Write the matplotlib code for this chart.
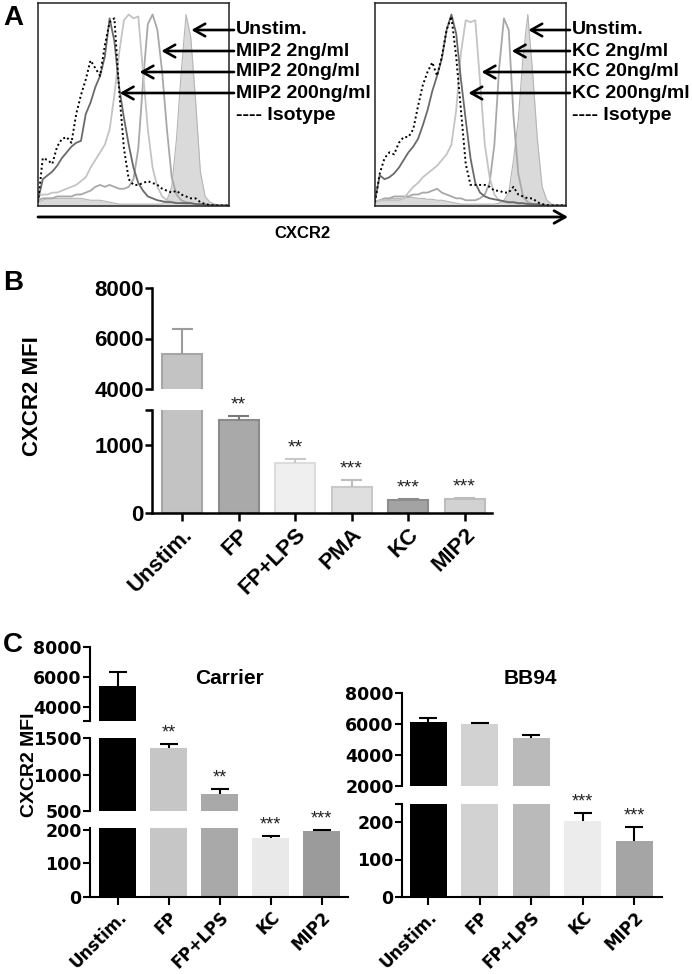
import matplotlib.pyplot as plt
import numpy as np

# ---------------- panel A: CXCR2 histograms (% of max on a 0-100 channel grid) ----------------
chan = np.arange(41) * 2.5

mip2_unstim = [2, 3, 4, 4, 4, 4, 4, 4, 4, 4, 3.5, 3, 3, 3, 2.5, 2, 1.5, 1, 1, 1, 1, 1, 1, 1, 1, 1, 1,
               3, 10, 35, 70, 100, 88, 55, 18, 5, 2, 1, 0.5, 0.3, 0.2]
mip2_2 = [3, 4, 4, 4, 5, 5, 5, 5, 6, 6, 7, 8, 10, 11, 10, 11, 10, 9, 9, 10, 14, 30, 65, 95, 100, 92,
          70, 40, 15, 6, 3, 2, 1.5, 1, 1, 0.5, 0.3, 0.3, 0.3, 0.3, 0.3]
mip2_20 = [5, 6, 6, 7, 7, 8, 9, 10, 11, 13, 15, 20, 24, 28, 32, 40, 58, 80, 97, 100, 98, 99, 70, 40,
           20, 10, 5, 3, 2, 1.5, 1.5, 1, 1, 1, 0.8, 0.5, 0.3, 0.3, 0.3, 0.3, 0.3]
mip2_200 = [3, 14, 16, 18, 21, 25, 28, 31, 33, 34, 48, 54, 62, 68, 78, 98, 86, 62, 46, 32, 20, 12, 8,
            5, 4, 3, 2.5, 2, 2, 1.5, 1.5, 1.5, 1.5, 1, 1, 0.8, 0.5, 0.5, 0.3, 0.3, 0.3]
mip2_iso = [2, 25, 24, 22, 31, 35, 36, 33, 48, 58, 66, 76, 72, 68, 84, 96, 98, 60, 30, 14, 11, 11, 12,
            13, 12, 11, 9, 8, 7, 8, 6, 5, 4, 4, 2, 1, 0.5, 0.3, 0.3, 0.3, 0.3]

kc_unstim = [2, 3, 3, 3.5, 4, 4, 4, 4.5, 4.5, 4, 4, 3.5, 3.5, 3, 3, 2.5, 2, 1.5, 1, 1, 1, 1, 1, 1, 1,
             1, 1.5, 3, 7, 24, 45, 78, 100, 70, 35, 10, 3, 1, 0.5, 0.3, 0.2]
kc_2 = [2, 3, 4, 4, 5, 5, 5, 5, 6, 6, 7, 7, 8, 9, 7, 6, 5, 4, 4, 3, 3, 3, 4, 6, 12, 32, 72, 98, 92,
        47, 17, 5, 2, 1, 1, 0.5, 0.3, 0.3, 0.3, 0.3, 0.3]
kc_20 = [2, 3, 3, 3, 3, 3, 4, 7, 10, 12, 15, 17, 19, 21, 24, 27, 32, 50, 80, 97, 96, 97, 65, 32, 15,
         6, 3, 2, 1.5, 1.5, 1, 1, 1, 0.8, 0.5, 0.5, 0.3, 0.3, 0.3, 0.3, 0.3]
kc_200 = [3, 16, 14, 15, 17, 20, 24, 28, 31, 35, 42, 50, 60, 68, 77, 92, 100, 90, 66, 45, 25, 12, 7,
          5, 4, 3.5, 3, 2.5, 2, 2, 1.5, 1.5, 1, 1, 0.8, 0.5, 0.3, 0.3, 0.3, 0.3, 0.3]
kc_iso = [2, 17, 25, 28, 27, 33, 36, 36, 40, 52, 63, 70, 75, 68, 78, 92, 99, 78, 50, 22, 11, 11, 11,
          11, 10, 8, 8, 7, 7, 10, 6, 5, 4, 4, 2, 1, 0.5, 0.3, 0.3, 0.3, 0.3]

mip2_names = ['Unstim.', 'MIP2 2ng/ml', 'MIP2 20ng/ml', 'MIP2 200ng/ml']
kc_names = ['Unstim.', 'KC 2ng/ml', 'KC 20ng/ml', 'KC 200ng/ml']
mip2_tips = [80.3, 64.6, 53.2, 42.8]   # channel where each arrow points
kc_tips = [80.3, 71.6, 55.8, 48.9]

# ---------------- panel B ----------------
b_groups = ['Unstim.', 'FP', 'FP+LPS', 'PMA', 'KC', 'MIP2']
b_mfi = [5390, 1370, 735, 380, 190, 210]
b_sem = [990, 60, 60, 105, 10, 12]
b_stars = ['', '**', '**', '***', '***', '***']

# ---------------- panel C ----------------
c_groups = ['Unstim.', 'FP', 'FP+LPS', 'KC', 'MIP2']
carrier_mfi = [5400, 1365, 733, 176, 197]
carrier_sem = [930, 55, 67, 4, 3]
carrier_stars = ['', '**', '**', '***', '***']
bb94_mfi = [6150, 6000, 5100, 203, 149]
bb94_sem = [250, 60, 190, 21, 38]
bb94_stars = ['', '', '', '***', '***']

W, H = 692, 974
plt.rcParams['font.family'] = 'Liberation Sans'
plt.rcParams['font.weight'] = 'bold'

fig = plt.figure(figsize=(W / 100, H / 100), dpi=100)
over = fig.add_axes([0, 0, 1, 1])
over.set_xlim(0, W)
over.set_ylim(H, 0)
over.axis('off')
over.set_zorder(5)


def px_axes(x0, x1, top, bottom):
    return fig.add_axes([x0 / W, 1 - bottom / H, (x1 - x0) / W, (bottom - top) / H])


def histo(x0, unstim, c2, c20, c200, iso):
    ax = px_axes(x0, x0 + 191, 3, 206)
    ax.fill_between(chan, unstim, color='#dadada', lw=0)
    ax.plot(chan, unstim, color='#b5b5b5', lw=0.8)
    ax.plot(chan, c2, color='#a8a8a8', lw=1.3)
    ax.plot(chan, c20, color='#c4c4c4', lw=1.3)
    ax.plot(chan, c200, color='#6a6a6a', lw=1.3)
    ax.plot(chan, iso, color='black', lw=1.4, ls=(0, (1, 1.4)))
    ax.set_xlim(0, 100)
    ax.set_ylim(0, 106)
    ax.set_xticks([])
    ax.set_yticks([])
    for s in ax.spines.values():
        s.set_linewidth(1.1)
        s.set_color('#222222')
    return ax


axL = histo(38, mip2_unstim, mip2_2, mip2_20, mip2_200, mip2_iso)
axR = histo(375, kc_unstim, kc_2, kc_20, kc_200, kc_iso)

rows = [30, 51, 72, 93]
for ax, xt, names, tips in [(axL, 236, mip2_names, mip2_tips), (axR, 572, kc_names, kc_tips)]:
    for name, y, tip in zip(names, rows, tips):
        over.text(xt, y, name, fontsize=14, ha='left', va='center')
        over.annotate('', xy=(tip, y), xycoords=(ax.transData, over.transData),
                      xytext=(xt - 2, y), textcoords=over.transData,
                      arrowprops=dict(arrowstyle='->,head_length=0.8,head_width=0.45', lw=1.9,
                                      color='black', shrinkA=0, shrinkB=0))
    over.text(xt, 115, '---- Isotype', fontsize=14, ha='left', va='center')

over.annotate('', xy=(568, 217), xytext=(38, 217),
              arrowprops=dict(arrowstyle='->,head_length=0.8,head_width=0.45', lw=2,
                              color='black', shrinkA=0, shrinkB=0))
over.text(302, 233, 'CXCR2', fontsize=12, ha='center', va='center')


def bar_panel(x0, x1, first_px, step_px, width_px, segs, vals, errs, fills, edges, ecols,
              labels, stars, font, tick_fs, x_fs, spine_lw, cap_px, edge_lw, star_fs, star_off):
    pos = np.arange(len(vals))
    tops = [v + e for v, e in zip(vals, errs)]
    cap = cap_px / step_px
    for k, (top, bot, lo, hi, ticks, shown) in enumerate(segs):
        ax = px_axes(x0, x1, top, bot)
        ax.patch.set_visible(False)
        ax.bar(pos, vals, width_px / step_px, color=fills, edgecolor=edges, linewidth=edge_lw)
        ax.vlines(pos, vals, tops, colors=ecols, lw=1.5)
        ax.hlines(tops, pos - cap, pos + cap, colors=ecols, lw=1.5)
        ax.set_xlim(-(first_px - x0) / step_px, (x1 - first_px) / step_px)
        ax.set_ylim(lo, hi)
        ax.set_yticks(ticks)
        ax.set_yticklabels([str(t) if t in shown else '' for t in ticks],
                           family=font, fontsize=tick_fs, fontweight='bold')
        ax.spines[['top', 'right']].set_visible(False)
        ax.spines['left'].set_linewidth(spine_lw)
        ax.tick_params(axis='y', length=5, width=spine_lw, pad=1)
        if k == len(segs) - 1:
            ax.spines['bottom'].set_linewidth(spine_lw)
            ax.set_xticks(pos)
            ax.set_xticklabels(labels, rotation=45, ha='right', rotation_mode='anchor',
                               family=font, fontsize=x_fs, fontweight='bold')
            ax.tick_params(axis='x', length=6, width=spine_lw, pad=2)
        else:
            ax.spines['bottom'].set_visible(False)
            ax.set_xticks([])
        for p, v, s in zip(pos, tops, stars):
            if s and lo <= v < hi:
                ax.annotate(s, (p, v), xytext=(0, star_off), textcoords='offset points',
                            ha='center', va='center', fontsize=star_fs, fontweight='normal',
                            color='#222222', annotation_clip=False)


# panel B
bar_panel(152, 492, 182, 56.5, 40,
          [(288, 389, 4000, 8000, [4000, 6000, 8000], [4000, 6000, 8000]),
           (410, 513, 0, 1515, [0, 1000, 1515], [0, 1000])],
          b_mfi, b_sem,
          ['#c3c3c3', '#a9a9a9', '#efefef', '#dfdfdf', '#a3a3a3', '#d2d2d2'],
          ['#a6a6a6', '#8b8b8b', '#dcdcdc', '#c9c9c9', '#8d8d8d', '#bdbdbd'],
          ['#9c9c9c', '#7a7a7a', '#c9c9c9', '#bdbdbd', '#8d8d8d', '#bdbdbd'],
          b_groups, b_stars, 'Liberation Sans', 16, 16, 1.8, 10.5, 1.5, 14, 8)

# panel C, carrier
bar_panel(90, 348, 117.5, 51, 36.5,
          [(647, 721, 3067, 8000, [3067, 4000, 6000, 8000], [4000, 6000, 8000]),
           (738, 811, 500, 1500, [500, 1000, 1500], [500, 1000, 1500]),
           (828, 897, 0, 205, [0, 100, 200], [0, 100, 200])],
          carrier_mfi, carrier_sem,
          ['black', '#c6c6c6', '#a9a9a9', '#e9e9e9', '#9b9b9b'], 'none', 'black',
          c_groups, carrier_stars, 'Liberation Sans Narrow', 12.5, 12, 1.5, 9, 0, 13, 8)

# panel C, BB94
bar_panel(402, 662, 428, 51.5, 37,
          [(693, 786, 2000, 8000, [2000, 4000, 6000, 8000], [2000, 4000, 6000, 8000]),
           (804, 897, 0, 248, [0, 100, 200, 248], [0, 100, 200])],
          bb94_mfi, bb94_sem,
          ['black', '#d2d2d2', '#bababa', '#ececec', '#a5a5a5'], 'none', 'black',
          c_groups, bb94_stars, 'Liberation Sans Narrow', 12.5, 12, 1.5, 9, 0, 13, 8)

over.text(13, 18, 'A', fontsize=20, ha='center', va='center')
over.text(13, 283, 'B', fontsize=20, ha='center', va='center')
over.text(13, 645, 'C', fontsize=20, ha='center', va='center')
over.text(33, 396, 'CXCR2 MFI', fontsize=16, rotation=90, ha='center', va='center')
over.text(29, 765, 'CXCR2 MFI', fontsize=14, rotation=90, ha='center', va='center')
over.text(230, 678, 'Carrier', fontsize=15, ha='center', va='center')
over.text(530, 678, 'BB94', fontsize=15, ha='center', va='center')

fig.savefig('out.png', dpi=100)
